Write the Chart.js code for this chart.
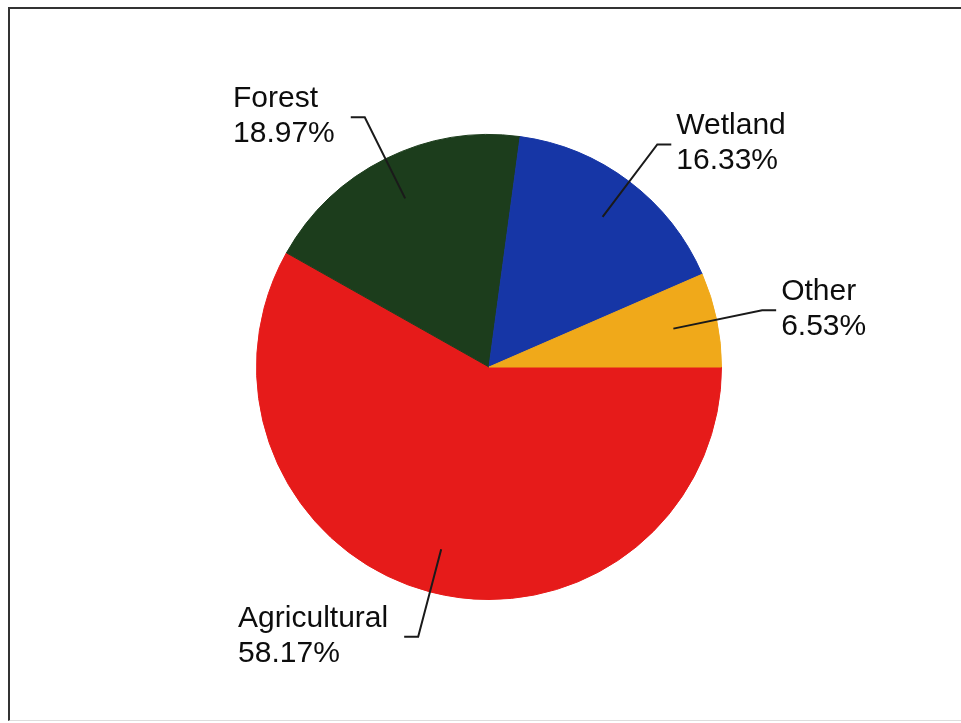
<!DOCTYPE html>
<html>
<head>
<meta charset="utf-8">
<script src="https://cdn.jsdelivr.net/npm/chart.js@4.4.1/dist/chart.umd.min.js"></script>
<style>
  html, body { margin: 0; padding: 0; background: #fff; }
  #wrap { position: relative; width: 961px; height: 723px; }
  #frame {
    position: absolute; left: 8px; top: 7px; width: 960px; height: 714px;
    border-left: 2px solid #333; border-top: 2px solid #333; border-bottom: 1px solid #ddd;
    box-sizing: border-box;
  }
  canvas { position: absolute; left: 0; top: 0; }
</style>
</head>
<body>
<div id="wrap">
  <div id="frame"></div>
  <canvas id="grafico" width="961" height="723"></canvas>
</div>
<script>
// Dados do gráfico (sentido horário a partir das 3 horas)
const categorias = ["Agricultural", "Forest", "Wetland", "Other"];
const percentuais = [58.17, 18.97, 16.33, 6.53];
const rotulos = ["58.17%", "18.97%", "16.33%", "6.53%"];
const cores = ["#e61b1a", "#1c3d1c", "#1636a6", "#f0a91a"];

// Linhas de chamada e rótulos desenhados a partir dos arcos
const rotulosPlugin = {
  id: "rotulosPlugin",
  afterDatasetsDraw(chart) {
    const ctx = chart.ctx;
    const arcos = chart.getDatasetMeta(0).data;
    ctx.save();
    ctx.font = "30px 'Liberation Sans', Arial, sans-serif";
    ctx.textBaseline = "alphabetic";
    ctx.fillStyle = "#0d0d0d";
    ctx.strokeStyle = "#1a1a1a";
    ctx.lineWidth = 2;

    arcos.forEach((arco, i) => {
      const { x, y, startAngle, endAngle, outerRadius } = arco.getProps(
        ["x", "y", "startAngle", "endAngle", "outerRadius"], true);
      const meio = (startAngle + endAngle) / 2;
      const cos = Math.cos(meio), sin = Math.sin(meio);
      const x1 = x + cos * outerRadius * 0.81, y1 = y + sin * outerRadius * 0.81;
      const x2 = x + cos * outerRadius * 1.2, y2 = y + sin * outerRadius * 1.2;
      const direita = cos >= 0;
      const x3 = x2 + (direita ? 14 : -14);

      ctx.beginPath();
      ctx.moveTo(x1, y1);
      ctx.lineTo(x2, y2);
      ctx.lineTo(x3, y2);
      ctx.stroke();

      const linhas = [categorias[i], rotulos[i]];
      const largura = Math.max(...linhas.map(l => ctx.measureText(l).width));
      const esquerda = direita ? x3 + 5 : x3 - 16 - largura;
      ctx.textAlign = "left";
      ctx.fillText(linhas[0], esquerda, y2 - 10);
      ctx.fillText(linhas[1], esquerda, y2 + 25);
    });
    ctx.restore();
  }
};

new Chart(document.getElementById("grafico"), {
  type: "pie",
  data: {
    labels: categorias,
    datasets: [{
      data: percentuais,
      backgroundColor: cores,
      borderColor: cores,
      borderWidth: 1
    }]
  },
  options: {
    responsive: false,
    animation: false,
    rotation: 90,
    layout: { padding: { left: 256, right: 239, top: 134, bottom: 123 } },
    plugins: {
      legend: { display: false },
      tooltip: { enabled: false }
    }
  },
  plugins: [rotulosPlugin]
});
</script>
</body>
</html>
